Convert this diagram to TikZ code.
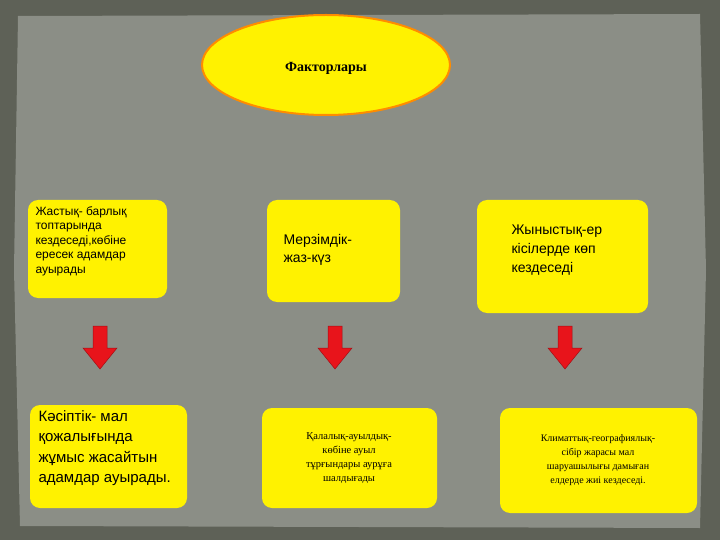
\documentclass[tikz,border=0pt]{standalone}
\usepackage{fontspec}
\setmainfont{Liberation Sans}
\newfontfamily\serifk{Liberation Serif}
\usetikzlibrary{shapes.geometric}
\definecolor{outerbg}{HTML}{5E6157}
\definecolor{innerbg}{HTML}{8B8E86}
\definecolor{boxy}{HTML}{FFF200}
\definecolor{redar}{HTML}{E8141B}
\tikzset{
 ybox/.style={draw=none,fill=boxy,rounded corners=10pt,inner sep=0pt},
 t/.style={align=left,font=\fontsize{12}{14.5}\selectfont},
 ts/.style={align=center,font=\serifk\fontsize{10.5}{14}\selectfont},
 darr/.style={fill=redar,draw=redar!70!black,line width=0.5pt}
}
\begin{document}
\begin{tikzpicture}[x=1pt,y=-1pt]
\useasboundingbox (0,0) rectangle (720,540);
\fill[outerbg] (0,0) rectangle (720,540);
\fill[innerbg] (18,16) -- (700,14) -- (706,270) -- (700,528) -- (20,526) -- (14,270) -- cycle;
\node[ellipse,draw=orange!90!yellow,line width=2pt,fill=boxy,minimum width=248pt,minimum height=100pt] (f) at (326,65) {};
\node[font=\serifk\bfseries\fontsize{14}{16}\selectfont] (ft) at (326,68) {Факторлары};
\fill[ybox] (28,200) rectangle (167,298); \node (b1) at (97,249) {};
\node[t,anchor=north west] (t1) at (32,203) {Жастық- барлық\\топтарында\\кездеседі,көбіне\\ересек адамдар\\ауырады};
\fill[ybox] (267,200) rectangle (400,302); \node (b2) at (333,251) {};
\node[t,anchor=west,font=\fontsize{14}{18}\selectfont] (t2) at (280,250) {Мерзімдік-\\жаз-күз};
\fill[ybox] (477,200) rectangle (648,313); \node (b3) at (562,256) {};
\node[t,anchor=north west,font=\fontsize{14}{19}\selectfont] (t3) at (508,221) {Жыныстық-ер\\кісілерде көп\\кездеседі};
\foreach \x/\n in {100/a1,335/a2,565/a3}{
 \draw[darr] (\x-7,326) -- (\x+7,326) -- (\x+7,348) -- (\x+17,348) -- (\x,369) -- (\x-17,348) -- (\x-7,348) -- cycle;
 \coordinate (\n) at (\x,348);
}
\fill[ybox] (30,405) rectangle (187,508); \node (b4) at (108,456) {};
\node[t,anchor=north west,font=\fontsize{15}{20.5}\selectfont] (t4) at (35,407) {Кәсіптік- мал\\қожалығында\\жұмыс жасайтын\\адамдар ауырады.};
\fill[ybox] (262,408) rectangle (437,508); \node (b5) at (349,458) {};
\node[ts] (t5) at (349,458) {Қалалық-ауылдық-\\көбіне ауыл\\тұрғындары аурұға\\шалдығады};
\fill[ybox] (500,408) rectangle (697,513); \node (b6) at (598,460) {};
\node[ts,font=\serifk\fontsize{10}{14}\selectfont] (t6) at (598,460) {Климаттық-географиялық-\\сібір жарасы мал\\шаруашылығы дамыған\\елдерде жиі кездеседі.};
\end{tikzpicture}
\end{document}
